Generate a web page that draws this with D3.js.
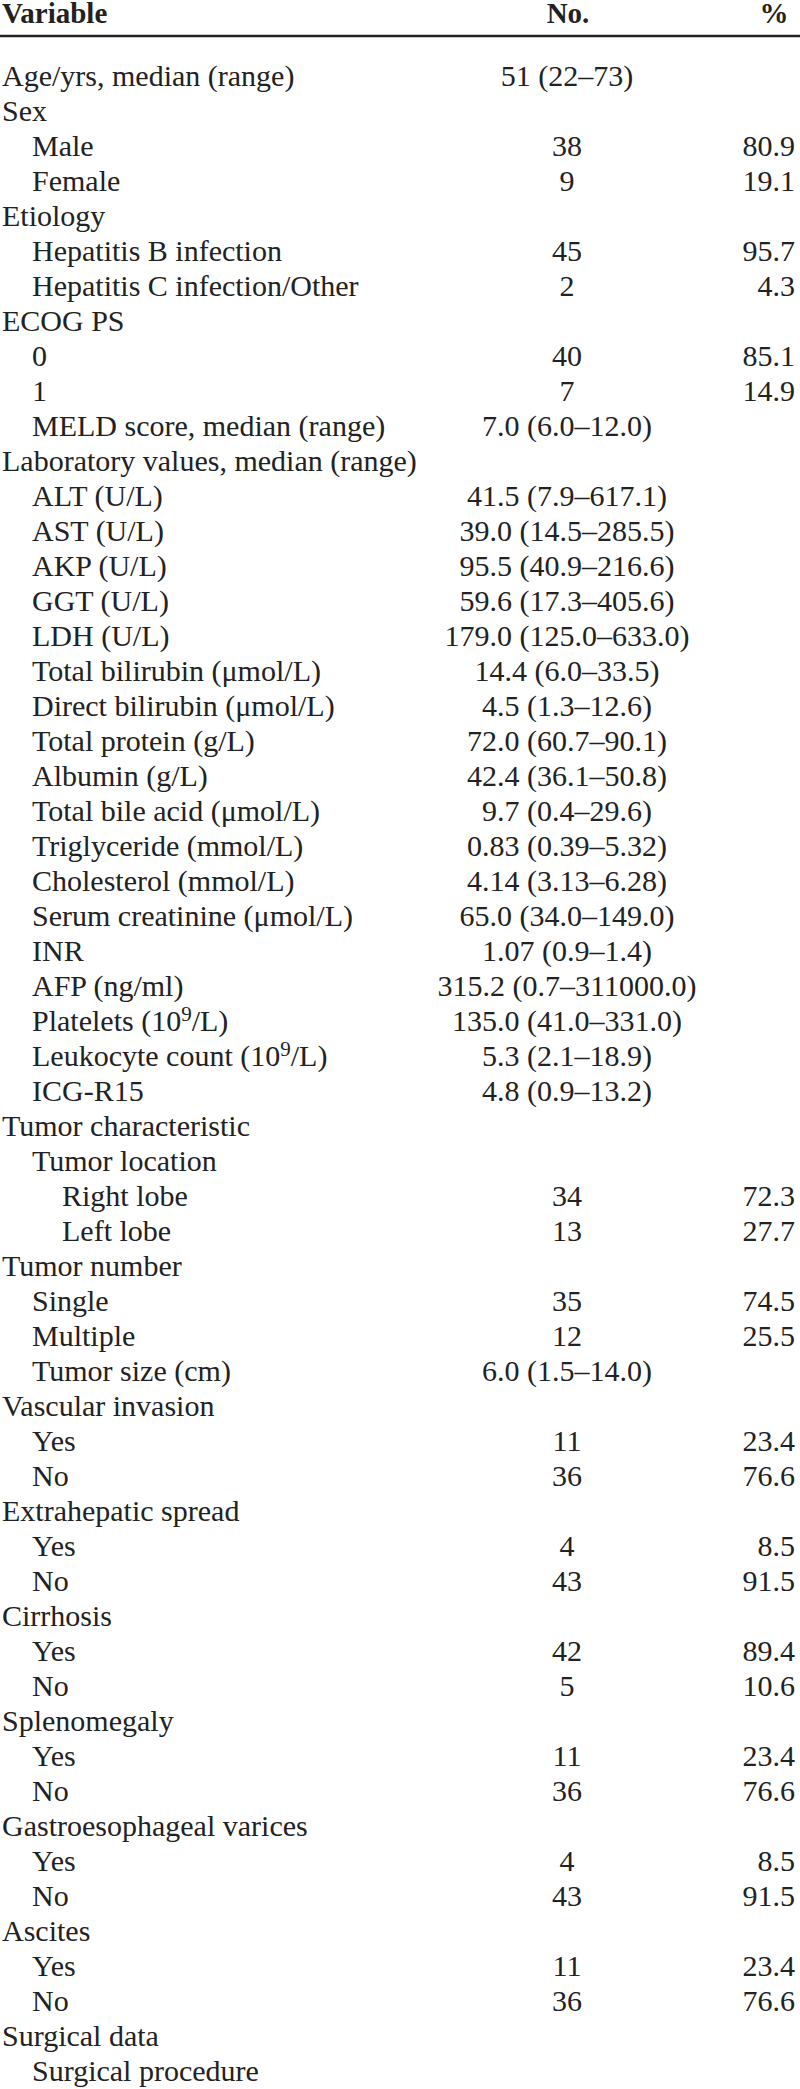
<!DOCTYPE html>
<html><head><meta charset="utf-8">
<script src="https://cdn.jsdelivr.net/npm/d3@7"></script>
<style>
html,body{margin:0;padding:0;background:#fff;}
svg{display:block;}
text{font-family:"Liberation Serif","Times New Roman",serif;fill:#222;}
</style></head>
<body>
<svg id="chart" width="800" height="2089"></svg>
<script>
const headers = ["Variable", "No.", "%"];
const variables = [
 "Age/yrs, median (range)","Sex","Male","Female","Etiology","Hepatitis B infection","Hepatitis C infection/Other",
 "ECOG PS","0","1","MELD score, median (range)","Laboratory values, median (range)",
 "ALT (U/L)","AST (U/L)","AKP (U/L)","GGT (U/L)","LDH (U/L)","Total bilirubin (μmol/L)","Direct bilirubin (μmol/L)",
 "Total protein (g/L)","Albumin (g/L)","Total bile acid (μmol/L)","Triglyceride (mmol/L)","Cholesterol (mmol/L)",
 "Serum creatinine (μmol/L)","INR","AFP (ng/ml)","Platelets (10^9/L)","Leukocyte count (10^9/L)","ICG-R15",
 "Tumor characteristic","Tumor location","Right lobe","Left lobe","Tumor number","Single","Multiple","Tumor size (cm)",
 "Vascular invasion","Yes","No","Extrahepatic spread","Yes","No","Cirrhosis","Yes","No","Splenomegaly","Yes","No",
 "Gastroesophageal varices","Yes","No","Ascites","Yes","No","Surgical data","Surgical procedure"];
const indents = [0,0,1,1,0,1,1,0,1,1,1,0,1,1,1,1,1,1,1,1,1,1,1,1,1,1,1,1,1,1,0,1,2,2,0,1,1,1,0,1,1,0,1,1,0,1,1,0,1,1,0,1,1,0,1,1,0,1];
const counts = ["51 (22–73)","","38","9","","45","2","","40","7","7.0 (6.0–12.0)","",
 "41.5 (7.9–617.1)","39.0 (14.5–285.5)","95.5 (40.9–216.6)","59.6 (17.3–405.6)","179.0 (125.0–633.0)",
 "14.4 (6.0–33.5)","4.5 (1.3–12.6)","72.0 (60.7–90.1)","42.4 (36.1–50.8)","9.7 (0.4–29.6)","0.83 (0.39–5.32)",
 "4.14 (3.13–6.28)","65.0 (34.0–149.0)","1.07 (0.9–1.4)","315.2 (0.7–311000.0)","135.0 (41.0–331.0)",
 "5.3 (2.1–18.9)","4.8 (0.9–13.2)","","","34","13","","35","12","6.0 (1.5–14.0)",
 "","11","36","","4","43","","42","5","","11","36","","4","43","","11","36","",""];
const percents = ["","","80.9","19.1","","95.7","4.3","","85.1","14.9","","",
 "","","","","","","","","","","","","","","","","","","","","72.3","27.7","","74.5","25.5","",
 "","23.4","76.6","","8.5","91.5","","89.4","10.6","","23.4","76.6","","8.5","91.5","","23.4","76.6","",""];

const rows = variables.map((v,i)=>({label:v, indent:indents[i], no:counts[i], pct:percents[i]}));
const svg = d3.select("#chart");
const FS = 30;
const y = d3.scaleLinear().domain([0, rows.length-1]).range([86, 86 + 35*(rows.length-1)]);
const xIndent = d3.scaleLinear().domain([0,2]).range([2, 62]);
const xNo = 567, xPct = 795;

// header
const hdr = svg.append("g").attr("font-weight","bold").attr("font-size",29);
hdr.append("text").attr("x",2).attr("y",23).text(headers[0]);
hdr.append("text").attr("x",568).attr("y",23).attr("text-anchor","middle").text(headers[1]);
hdr.append("text").attr("x",774).attr("y",23).attr("text-anchor","middle").text(headers[2]);
svg.append("line").attr("x1",0).attr("x2",800).attr("y1",36).attr("y2",36).attr("stroke","#222").attr("stroke-width",2.5);

function addLabel(sel, s){
  const parts = s.split("^");
  if(parts.length===1){ sel.text(s); return; }
  sel.append("tspan").text(parts[0]);
  const m = parts[1].match(/^(\d+)(.*)$/);
  sel.append("tspan").attr("dy",-10).attr("font-size",FS*0.7).text(m[1]);
  sel.append("tspan").attr("dy",10).text(m[2]);
}

const g = svg.append("g").attr("font-size",FS);
const r = g.selectAll("g.row").data(rows).join("g").attr("class","row")
  .attr("transform",(d,i)=>`translate(0,${y(i)})`);
r.append("text").attr("x",d=>xIndent(d.indent)).each(function(d){addLabel(d3.select(this), d.label);});
r.append("text").attr("x",xNo).attr("text-anchor","middle").text(d=>d.no);
r.append("text").attr("x",xPct).attr("text-anchor","end").text(d=>d.pct);
</script>
</body></html>
